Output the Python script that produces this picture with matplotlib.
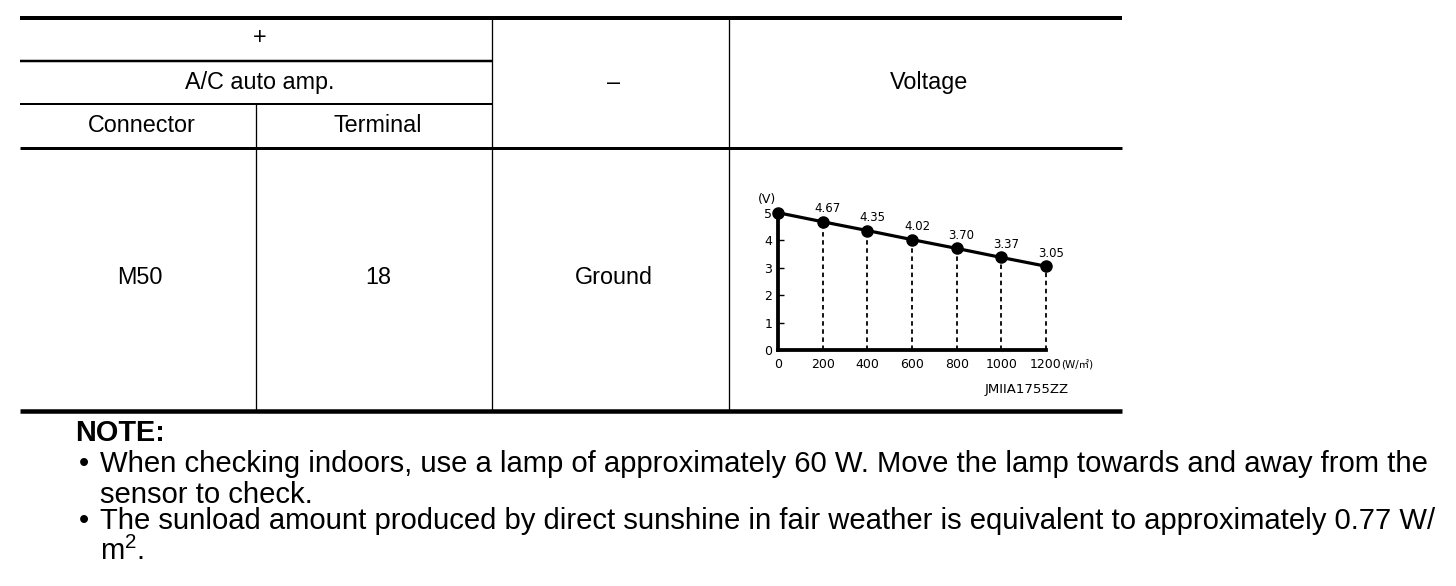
import matplotlib
matplotlib.use("Agg")
import matplotlib.pyplot as plt

plt.rcParams['font.family'] = ['Liberation Sans', 'Noto Sans CJK JP', 'DejaVu Sans']

# ---- data ----
header_plus = "+"
header_unit = "A/C auto amp."
header_cols = ["Connector", "Terminal"]
header_minus = "–"
header_voltage = "Voltage"
row_values = ["M50", "18", "Ground"]

sunload = [0, 200, 400, 600, 800, 1000, 1200]
voltage = [5.00, 4.67, 4.35, 4.02, 3.70, 3.37, 3.05]
y_ticks = [0, 1, 2, 3, 4, 5]
x_tick_labels = ["0", "200", "400", "600", "800", "1000", "1200"]
x_unit = "(W/㎡)"
y_unit = "(V)"
figure_code = "JMIIA1755ZZ"

note_title = "NOTE:"
note_lines = [
    ("•", "When checking indoors, use a lamp of approximately 60 W. Move the lamp towards and away from the"),
    ("", "sensor to check."),
    ("•", "The sunload amount produced by direct sunshine in fair weather is equivalent to approximately 0.77 W/"),
    ("", r"m$^{\mathregular{2}}$."),
]

W, H = 1456, 586
fig = plt.figure(figsize=(W / 100, H / 100), dpi=100)
ax = fig.add_axes([0, 0, 1, 1])
ax.set_xlim(0, W)
ax.set_ylim(H, 0)
ax.axis("off")

k = "black"
px = 0.72
# horizontal rules
ax.plot([20, 1122], [18, 18], color=k, lw=4 * px, solid_capstyle="butt")
ax.plot([20, 492], [61, 61], color=k, lw=2.5 * px, solid_capstyle="butt")
ax.plot([20, 492], [104, 104], color=k, lw=2 * px, solid_capstyle="butt")
ax.plot([20, 1122], [147.5, 147.5], color=k, lw=3 * px, solid_capstyle="butt")
ax.plot([20, 1122], [410.5, 410.5], color=k, lw=4.5 * px, solid_capstyle="butt")
# vertical rules
ax.plot([256, 256], [104, 409], color=k, lw=1.3 * px)
ax.plot([492, 492], [18, 409], color=k, lw=1.3 * px)
ax.plot([729, 729], [18, 409], color=k, lw=1.3 * px)

tfs = 16.8
ax.text(260, 38, header_plus, ha="center", va="center", fontsize=tfs)
ax.text(260, 82, header_unit, ha="center", va="center", fontsize=tfs)
ax.text(142, 125, header_cols[0], ha="center", va="center", fontsize=tfs)
ax.text(378, 125, header_cols[1], ha="center", va="center", fontsize=tfs)
ax.text(614, 82, header_minus, ha="center", va="center", fontsize=tfs)
ax.text(929, 82, header_voltage, ha="center", va="center", fontsize=tfs)
for cx, val in zip([140, 378, 614], row_values):
    ax.text(cx, 277, val, ha="center", va="center", fontsize=tfs)

nfs = 21.1
ax.text(75, 433, note_title, ha="left", va="center", fontsize=20.8, fontweight="bold")
for (bullet, line), yy in zip(note_lines, [464, 495, 521, 551]):
    if bullet:
        ax.text(79, yy, bullet, ha="left", va="center", fontsize=nfs)
    ax.text(100, yy, line, ha="left", va="center", fontsize=nfs)

# ---- inset chart ----
cfont = ['DejaVu Sans']
cfs = 9
x0, x1 = 778, 1046
y0, y5 = 350, 212.7
cax = fig.add_axes([x0 / W, (H - y0) / H, (x1 - x0) / W, (y0 - y5) / H])
cax.set_xlim(0, 1200)
cax.set_ylim(0, 5)
cax.patch.set_alpha(0)
for s in ["top", "right"]:
    cax.spines[s].set_visible(False)
for s in ["left", "bottom"]:
    cax.spines[s].set_linewidth(3.8 * px)
    cax.spines[s].set_capstyle("projecting")

for xv, yv in zip(sunload[1:], voltage[1:]):
    cax.plot([xv, xv], [0, yv], color=k, lw=1.8 * px, linestyle=(0, (2.5, 2)), clip_on=False)
cax.plot(sunload, voltage, color=k, lw=3.2 * px, marker="o", markersize=8, clip_on=False)
for xv, yv in zip(sunload[1:], voltage[1:]):
    cax.annotate(f"{yv:.2f}", (xv, yv), xytext=(5, 13), textcoords="offset pixels",
                 ha="center", va="center", fontsize=8.5, family=cfont)

cax.set_yticks(y_ticks)
cax.set_yticklabels([str(t) for t in y_ticks], fontsize=cfs, family=cfont)
cax.tick_params(axis="y", direction="in", length=4, width=1, pad=4)
cax.set_xticks(sunload)
cax.set_xticklabels(x_tick_labels, fontsize=cfs, family=cfont)
cax.tick_params(axis="x", length=0, pad=6)

ax.text(1061, 364, x_unit, ha="left", va="center", fontsize=7.5,
        family=['DejaVu Sans', 'Noto Sans CJK JP'])
ax.text(767, 199, y_unit, ha="center", va="center", fontsize=cfs, family=cfont)
ax.text(1027, 390, figure_code, ha="center", va="center", fontsize=9.5, family=cfont)

fig.savefig("out.png", dpi=100)
